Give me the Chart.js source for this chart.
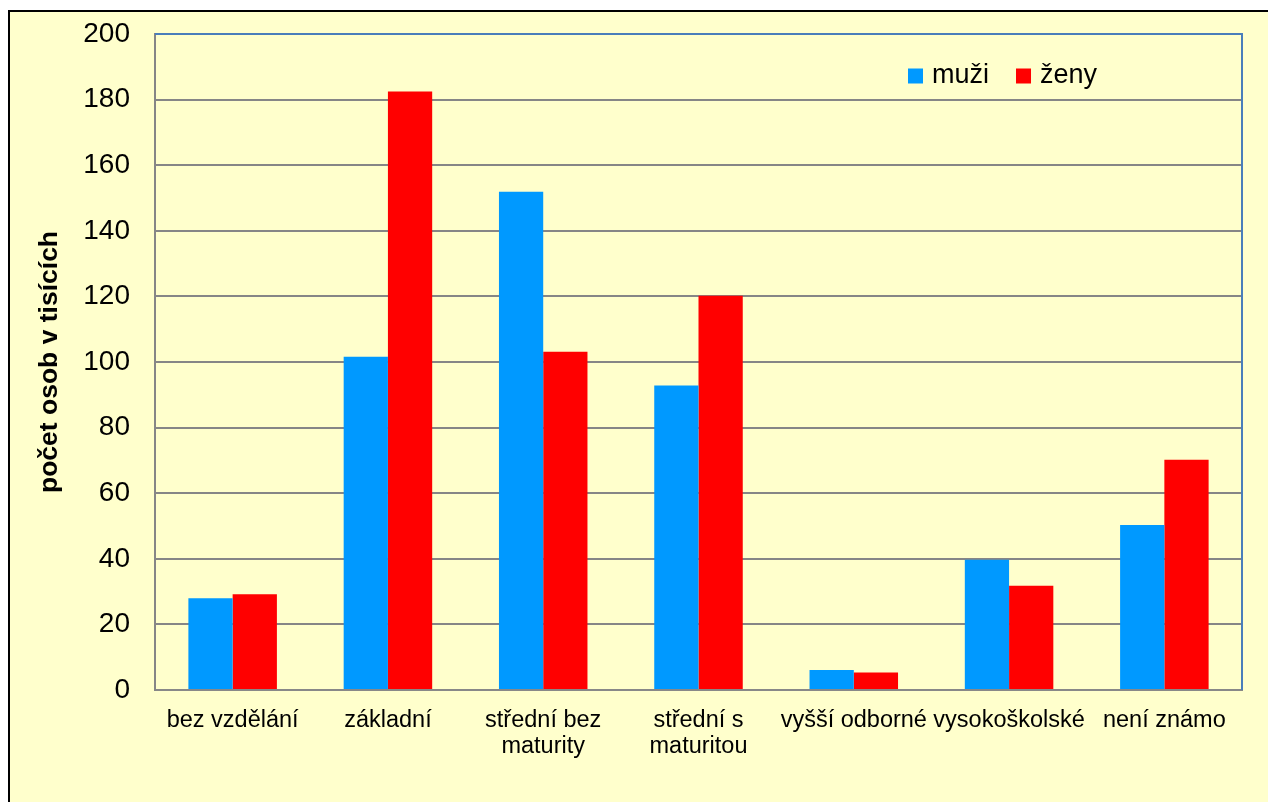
<!DOCTYPE html>
<html lang="cs">
<head>
<meta charset="utf-8">
<title>Počet osob podle vzdělání</title>
<script src="https://cdn.jsdelivr.net/npm/chart.js@4/dist/chart.umd.min.js"></script>
<style>
    html, body { margin: 0; padding: 0; background: #ffffff; overflow: hidden; }
    #graf { display: block; }
</style>
</head>
<body>
<canvas id="graf" width="1268" height="802"></canvas>
<script>
// kategorie vzdělání (víceřádkové popisky jako pole)
const kategorie = [
    "bez vzdělání",
    "základní",
    ["střední bez", "maturity"],
    ["střední s", "maturitou"],
    "vyšší odborné",
    "vysokoškolské",
    "není známo"
];

// hodnoty v tisících osob
const muzi = [28.0, 101.6, 151.9, 92.8, 6.1, 39.7, 50.3];
const zeny = [29.2, 182.5, 103.1, 120.2, 5.3, 31.8, 70.2];

const osaMin = 0;
const osaMax = 200;
const osaKrok = 20;

const PISMO = "'Liberation Sans', Arial, sans-serif";

// pozadí: bílý okraj, žlutá plocha s černým rámem
const pozadiPlugin = {
    id: "pozadi",
    beforeDraw(chart) {
        const ctx = chart.ctx;
        ctx.save();
        ctx.fillStyle = "#ffffff";
        ctx.fillRect(0, 0, chart.width, chart.height);
        ctx.fillStyle = "#ffffcc";
        ctx.fillRect(9, 11, chart.width, chart.height);
        ctx.strokeStyle = "#000000";
        ctx.lineWidth = 2;
        ctx.strokeRect(9, 11, chart.width + 10, chart.height + 10);
        ctx.restore();
    }
};

// horní a pravý okraj plochy grafu (modrý)
const ramecekPlugin = {
    id: "ramecek",
    afterDatasetsDraw(chart) {
        const { ctx, chartArea: a } = chart;
        ctx.save();
        ctx.strokeStyle = "#4a7ebb";
        ctx.lineWidth = 2;
        ctx.beginPath();
        ctx.moveTo(a.left, a.top);
        ctx.lineTo(a.right, a.top);
        ctx.lineTo(a.right, a.bottom);
        ctx.stroke();
        ctx.restore();
    }
};

// legenda uvnitř plochy vpravo nahoře
const legendaPlugin = {
    id: "legenda",
    afterDraw(chart) {
        const ctx = chart.ctx;
        ctx.save();
        ctx.font = "27px " + PISMO;
        ctx.textBaseline = "middle";
        let x = 908;
        const y = 76;
        chart.data.datasets.forEach(ds => {
            ctx.fillStyle = ds.backgroundColor;
            ctx.fillRect(x, y - 7.5, 15, 15);
            ctx.fillStyle = "#000000";
            ctx.fillText(ds.label, x + 24, y);
            x += 24 + ctx.measureText(ds.label).width + 27;
        });
        ctx.restore();
    }
};

const ctx = document.getElementById("graf").getContext("2d");

const chart = new Chart(ctx, {
    type: "bar",
    data: {
        labels: kategorie,
        datasets: [
            {
                label: "muži",
                data: muzi,
                backgroundColor: "#0099ff",
                borderWidth: 0
            },
            {
                label: "ženy",
                data: zeny,
                backgroundColor: "#ff0000",
                borderWidth: 0
            }
        ]
    },
    options: {
        responsive: false,
        devicePixelRatio: 1,
        animation: false,
        categoryPercentage: 0.57,
        barPercentage: 1.0,
        layout: { padding: { top: 34, right: 26, left: 0, bottom: 0 } },
        plugins: {
            legend: { display: false },
            tooltip: { enabled: false }
        },
        scales: {
            x: {
                grid: { display: false, drawTicks: false },
                border: { color: "#888888", width: 2 },
                ticks: {
                    color: "#000000",
                    padding: 17,
                    maxRotation: 0,
                    autoSkip: false,
                    font: { family: PISMO, size: 23.5, lineHeight: 1.13 }
                },
                afterFit(scale) { scale.height = 112; }
            },
            y: {
                min: osaMin,
                max: osaMax,
                grid: { color: "#868686", lineWidth: 2, drawTicks: false },
                border: { color: "#868686", width: 2 },
                ticks: {
                    stepSize: osaKrok,
                    color: "#000000",
                    padding: 25,
                    font: { family: PISMO, size: 28 }
                },
                title: {
                    display: true,
                    text: "počet osob v tisících",
                    color: "#000000",
                    padding: { top: 34, bottom: 0 },
                    font: { family: PISMO, size: 26.5, weight: "bold" }
                },
                afterFit(scale) {
                    scale.width = 155;
                    // popisky os nemají posouvat horní okraj plochy
                    scale.paddingTop = 0;
                    scale.paddingBottom = 0;
                }
            }
        }
    },
    plugins: [pozadiPlugin, ramecekPlugin, legendaPlugin]
});
</script>
</body>
</html>
